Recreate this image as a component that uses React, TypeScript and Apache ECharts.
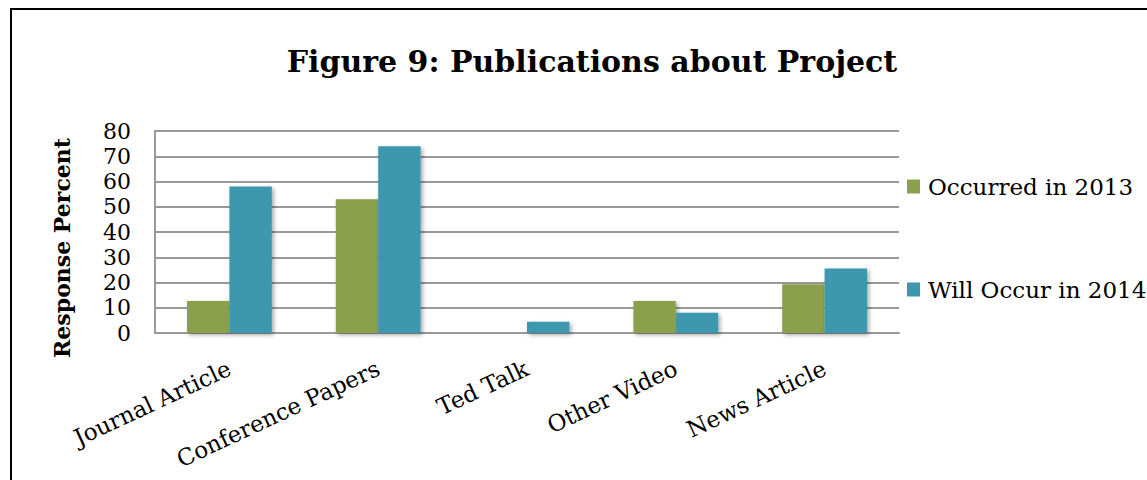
import React, { useEffect, useRef } from "react";
import * as echarts from "echarts";

const categories = ["Journal Article", "Conference Papers", "Ted Talk", "Other Video", "News Article"];
const occurred2013 = [12.7, 53, 0, 12.7, 19.3];
const willOccur2014 = [58, 74, 4.5, 8, 25.5];
const seriesNames = ["Occurred in 2013", "Will Occur in 2014"];
const titleText = "Figure 9: Publications about Project";
const yAxisName = "Response Percent";

const FONT = "'DejaVu Serif', serif";

export default function App() {
  const ref = useRef<HTMLDivElement>(null);
  useEffect(() => {
    if (!ref.current) return;
    const chart = echarts.init(ref.current, undefined, { renderer: "svg" });
    const shadow = {
      shadowBlur: 4,
      shadowColor: "rgba(0,0,0,0.35)",
      shadowOffsetX: 2,
      shadowOffsetY: 2,
    };
    chart.setOption({
      animation: false,
      backgroundColor: "#ffffff",
      title: {
        text: titleText,
        left: 587,
        textAlign: "center",
        top: 41,
        textStyle: { fontFamily: FONT, fontWeight: "bold", fontSize: 30, color: "#000" },
      },
      graphic: [
        {
          type: "rect",
          x: 11,
          y: 9,
          shape: { x: 0, y: 0, width: 1200, height: 500 },
          style: { fill: "none", stroke: "#000", lineWidth: 2 },
          silent: true,
        },
        {
          type: "text",
          x: 62,
          y: 248,
          rotation: Math.PI / 2,
          silent: true,
          style: {
            text: yAxisName,
            align: "center",
            verticalAlign: "middle",
            fontFamily: FONT,
            fontWeight: "bold",
            fontSize: 22,
            fill: "#000",
          },
        },
      ],
      legend: {
        orient: "vertical",
        left: 902,
        top: 170,
        itemWidth: 13,
        itemHeight: 14,
        itemGap: 80,
        icon: "rect",
        textStyle: { fontFamily: FONT, fontSize: 23, color: "#000", padding: [0, 0, 0, 3] },
        data: seriesNames,
      },
      grid: { left: 155, right: 248, top: 131, bottom: 147, containLabel: false },
      xAxis: {
        type: "category",
        data: categories,
        axisLine: { show: true, lineStyle: { color: "#999", width: 2 } },
        axisTick: { show: false },
        axisLabel: {
          rotate: 25,
          margin: 34,
          interval: 0,
          fontFamily: FONT,
          fontSize: 23,
          color: "#000",
        },
      },
      yAxis: {
        type: "value",
        min: 0,
        max: 80,
        interval: 10,
        axisLine: { show: true, lineStyle: { color: "#999", width: 2 } },
        axisTick: { show: false },
        axisLabel: { margin: 24, fontFamily: FONT, fontSize: 22, lineHeight: 22, color: "#000" },
        splitLine: { show: true, lineStyle: { color: "#999", width: 2 } },
      },
      series: [
        {
          name: seriesNames[0],
          type: "bar",
          data: occurred2013,
          barGap: "0%",
          barCategoryGap: "43%",
          itemStyle: { color: "#8AA04C", ...shadow },
        },
        {
          name: seriesNames[1],
          type: "bar",
          data: willOccur2014,
          barGap: "0%",
          barCategoryGap: "43%",
          itemStyle: { color: "#3D97AE", ...shadow },
        },
      ],
    });
    return () => chart.dispose();
  }, []);
  return (
    <div
      ref={ref}
      style={{ position: "fixed", left: 0, top: 0, width: 1147, height: 480, background: "#fff" }}
    />
  );
}
